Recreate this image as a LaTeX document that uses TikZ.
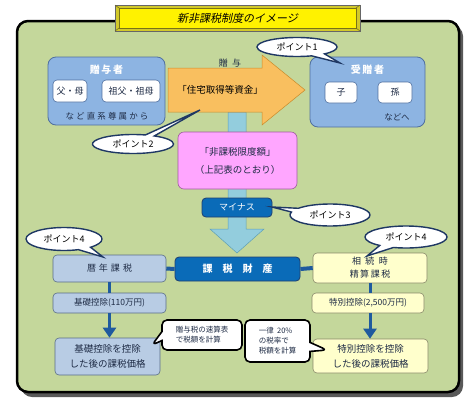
\documentclass[tikz,border=0pt]{standalone}
\usepackage{fontspec}
\setmainfont{Noto Sans CJK JP}
\newfontfamily\slantjp[FakeSlant=0.2]{Noto Sans CJK JP}
\usetikzlibrary{shapes.callouts,shapes.geometric,arrows.meta}
\definecolor{framegreen}{HTML}{C4D79B}
\definecolor{donorblue}{HTML}{8DB4E2}
\definecolor{donorline}{HTML}{4F6F9F}
\definecolor{orangefill}{HTML}{F9BF5F}
\definecolor{orangeline}{HTML}{C98A2A}
\definecolor{aqua}{HTML}{93CDDD}
\definecolor{aqualine}{HTML}{5F9FB5}
\definecolor{pinkfill}{HTML}{FFA6FF}
\definecolor{pinkline}{HTML}{A05CA0}
\definecolor{darkblue}{HTML}{0A6BB8}
\definecolor{darkblueline}{HTML}{1F3F6F}
\definecolor{steel}{HTML}{B8CCE4}
\definecolor{steelline}{HTML}{5A6E88}
\definecolor{lightyellow}{HTML}{FFFFCC}
\definecolor{yellowline}{HTML}{8A8A6A}
\definecolor{navy}{HTML}{1F3864}
\definecolor{txt}{HTML}{1E2B45}
\definecolor{conn}{HTML}{1F5A9E}
\begin{document}
\begin{tikzpicture}[x=1pt,y=-1pt,
  box/.style={draw, rounded corners=4pt, inner sep=0pt, align=center, text=txt, font=\fontsize{9}{12}\selectfont},
  whitebox/.style={box, fill=white, draw=donorline, line width=0.6pt},
  steelbox/.style={box, fill=steel, draw=steelline, line width=0.6pt},
  yellowbox/.style={box, fill=lightyellow, draw=yellowline, line width=0.6pt},
  navybox/.style={box, fill=darkblue, draw=darkblueline, line width=0.8pt, text=white},
  pointcall/.style={ellipse callout, draw=navy, line width=1.4pt, fill=white, inner sep=0pt, text=black, callout pointer arc=22, font=\fontsize{9}{10}\selectfont},
  rectcall/.style={rectangle callout, draw=black, line width=1.6pt, fill=white, rounded corners=5pt, inner sep=0pt, align=left, text=txt, callout pointer width=9pt, font=\fontsize{7.5}{10}\selectfont},
  connline/.style={draw=conn, line width=3pt},
  connarrow/.style={draw=conn, line width=3pt, -{Triangle[width=13pt,length=10pt]}}
]
\useasboundingbox (0,0) rectangle (474,400);

% frame with shadow
\fill[black!65, rounded corners=11pt] (21,25) rectangle (463,397);
\draw[fill=framegreen, line width=2.5pt, rounded corners=11pt] (17,21) rectangle (459,392);

% title with bevel
\draw[fill=yellow!80!black, draw=black!60, line width=0.7pt] (115,5) rectangle (360,31);
\draw[fill=yellow, draw=olive!80!black, line width=0.5pt] (119,8) rectangle (356,28);
\draw[olive!70!black, line width=0.5pt] (115,5) -- (119,8) (360,5) -- (356,8) (115,31) -- (119,28) (360,31) -- (356,28);
\node[font=\slantjp\fontsize{11}{13}\selectfont] (title) at (237.5,18) {新非課税制度のイメージ};

% light blue flow bar with arrow head
\draw[fill=aqua, draw=aqualine, line width=0.5pt] (228,112) -- (246,112) -- (246,229) -- (264,229) -- (237,253) -- (210,229) -- (228,229) -- cycle;

% orange arrow
\draw[fill=orangefill, draw=orangeline, line width=0.5pt] (168,68) -- (262,68) -- (262,55) -- (305,90) -- (262,125) -- (262,112) -- (168,112) -- cycle;
\node[text=black, font=\fontsize{9.5}{12}\selectfont] (fund) at (220,90) {「住宅取得等資金」};
\node[text=txt, font=\fontsize{9}{11}\selectfont] (gift) at (230,63) {贈\ \ 与};

% donor
\node[box, fill=donorblue, draw=donorline, line width=0.8pt, minimum width=117pt, minimum height=68pt, rounded corners=8pt] (donor) at (106.5,91) {};
\node[text=white, font=\bfseries\fontsize{10}{12}\selectfont] (donort) at (106.5,70) {贈\,与\,者};
\node[whitebox, minimum width=34pt, minimum height=22pt] (parents) at (70,91) {父・母};
\node[whitebox, minimum width=58pt, minimum height=22pt] (gparents) at (131,91) {祖父・祖母};
\node[text=txt, font=\addfontfeature{LetterSpace=25}\fontsize{8.5}{10}\selectfont] (lineal) at (107,116) {など直系尊属から};

% recipient
\node[box, fill=donorblue, draw=donorline, line width=0.8pt, minimum width=115pt, minimum height=70pt, rounded corners=8pt] (recip) at (367.5,92) {};
\node[text=white, font=\bfseries\fontsize{10}{12}\selectfont] (recipt) at (367.5,70) {受\,贈\,者};
\node[whitebox, minimum width=32pt, minimum height=21pt] (child) at (341,92.5) {子};
\node[whitebox, minimum width=34pt, minimum height=21pt] (grand) at (395,92.5) {孫};
\node[text=txt, font=\fontsize{8.5}{10}\selectfont] (etc) at (397,117) {などへ};

% pink
\node[box, fill=pinkfill, draw=pinkline, line width=0.6pt, minimum width=119pt, minimum height=57pt, rounded corners=6pt, font=\fontsize{9.5}{18}\selectfont] (limit) at (237.5,160.5) {「非課税限度額」\\（上記表のとおり）};

% minus
\node[navybox, minimum width=70pt, minimum height=19pt, font=\fontsize{9}{11}\selectfont] (minus) at (237,207.5) {マイナス};

% taxable property
\node[navybox, minimum width=125pt, minimum height=24pt, font=\bfseries\fontsize{10}{12}\selectfont] (prop) at (237.5,269) {課\quad 税\quad 財\quad 産};

% left column
\node[steelbox, minimum width=113pt, minimum height=27pt] (annual) at (109.5,268.5) {暦\,\,年\,\,課\,\,税};
\node[steelbox, minimum width=113pt, minimum height=20pt, font=\fontsize{8.5}{10}\selectfont] (basic) at (109.5,303) {基礎控除(110万円)};
\node[steelbox, minimum width=105pt, minimum height=37pt, font=\fontsize{9.5}{15}\selectfont] (lowleft) at (107.5,356.5) {基礎控除を控除\\した後の課税価格};

% right column
\node[yellowbox, minimum width=114pt, minimum height=30pt, font=\fontsize{9}{13}\selectfont] (settle) at (370,268) {相\,\,\,続\,\,\,時\\精\,算\,課\,税};
\node[yellowbox, minimum width=112pt, minimum height=20pt, font=\fontsize{8.5}{10}\selectfont] (special) at (368,303) {特別控除(2,500万円)};
\node[yellowbox, minimum width=115pt, minimum height=34pt, font=\fontsize{9.5}{15}\selectfont] (lowright) at (370.5,356) {特別控除を控除\\した後の課税価格};

% connectors
\draw[connline, line width=4pt] (prop.west) -- (annual.east);
\draw[connline, line width=4pt] (prop.east) -- (settle.west);
\draw[connline] (annual.south) -- (annual.south |- basic.north);
\draw[connarrow] (basic.south) -- (basic.south |- lowleft.north);
\draw[connline] (settle.south) -- (settle.south |- special.north);
\draw[connarrow] (special.south -| settle.south) -- (settle.south |- lowright.north);

% rectangle callouts
\coordinate (tipL) at (152,345);
\coordinate (tipR) at (327,350);
\node[rectcall, minimum width=80pt, minimum height=30pt, callout absolute pointer={(tipL)}] (calcL) at (202,335) {贈与税の速算表\\で税額を計算};
\node[rectcall, minimum width=65pt, minimum height=42pt, callout absolute pointer={(tipR)}] (calcR) at (277.5,341) {一律\ \ 20\%\\の税率で\\税額を計算};

% point callouts
\coordinate (p1) at (340,63);
\coordinate (p2) at (200,110);
\coordinate (p3) at (272,207);
\coordinate (p4l) at (103,257);
\coordinate (p4r) at (367,256);
\node[pointcall, minimum width=80pt, minimum height=19pt, callout absolute pointer={(p1)}] (pt1) at (297,47) {ポイント1};
\node[pointcall, minimum width=81pt, minimum height=19pt, callout absolute pointer={(p2)}, callout pointer arc=14] (pt2) at (133,144) {ポイント2};
\node[pointcall, minimum width=80pt, minimum height=22pt, callout absolute pointer={(p3)}] (pt3) at (330,215) {ポイント3};
\node[pointcall, minimum width=76pt, minimum height=23pt, callout absolute pointer={(p4l)}] (pt4l) at (64,239) {ポイント4};
\node[pointcall, minimum width=82pt, minimum height=22pt, callout absolute pointer={(p4r)}] (pt4r) at (406,237) {ポイント4};
\end{tikzpicture}
\end{document}
